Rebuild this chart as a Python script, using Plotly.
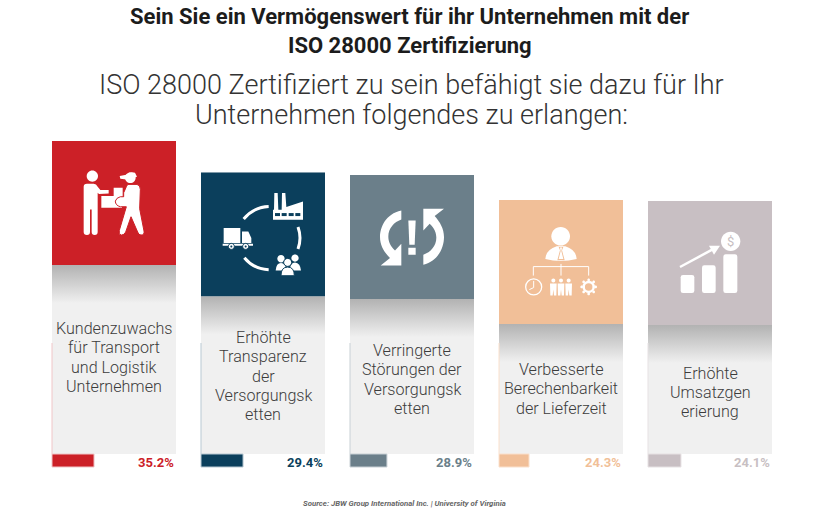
import re
import plotly.graph_objects as go

# values
labels = [
    ["Kundenzuwachs", "für Transport", "und Logistik", "Unternehmen"],
    ["Erhöhte", "Transparenz", "der", "Versorgungsk", "etten"],
    ["Verringerte", "Störungen der", "Versorgungsk", "etten"],
    ["Verbesserte", "Berechenbarkeit", "der Lieferzeit"],
    ["Erhöhte", "Umsatzgen", "erierung"],
]
values = [35.2, 29.4, 28.9, 24.3, 24.1]
mini_bar_share = [33.9, 33.9, 29.8, 24.2, 26.6]
colors = ["#cc2027", "#0b3f5c", "#6b7f8a", "#f1bf98", "#c8bfc3"]
edge_colors = ["#f0c6c8", "#b9c9d3", "#c8d0d5", "#fae0cc", "#e6e1e3"]
title_lines = ["Sein Sie ein Vermögenswert für ihr Unternehmen mit der", "ISO 28000 Zertifizierung"]
subtitle_lines = ["ISO 28000 Zertifiziert zu sein befähigt sie dazu für Ihr", "Unternehmen folgendes zu erlangen:"]
source = "Source: JBW Group International Inc. | University of Virginia"

W, H = 825, 514
SLOT = 149.0      # px per column
TILE = 124.0      # px
PX = 5.4          # px per percent point
BASE = -22.75     # value at the bottom of the tiles
BOTTOM_PX = 454
SQ = TILE / PX
TILE_X = TILE / SLOT
GRAD = 38 / PX
MINI = 13 / PX
LINE_PX = 19.3    # label line height
label_shift = [-2, 1, 3, 0, 3]  # px, centres of the label blocks

n = len(values)
xs = list(range(n))

fig = go.Figure()

# grey tile, coloured square on top
fig.add_trace(go.Bar(x=xs, y=[v - BASE for v in values], base=BASE, width=TILE_X,
                     marker=dict(color="#f0f0f0", line_width=0)))
fig.add_trace(go.Bar(x=xs, y=[SQ] * n, base=[v - SQ for v in values], width=TILE_X,
                     marker=dict(color=colors, line_width=0)))
# small bars under the tiles
widths = [s / 100 * TILE_X for s in mini_bar_share]
fig.add_trace(go.Bar(x=[i - TILE_X / 2 + w / 2 for i, w in zip(xs, widths)], y=[MINI] * n,
                     base=BASE - MINI, width=widths,
                     marker=dict(color=colors, line=dict(color=edge_colors, width=1))))

for i, v in enumerate(values):
    # shadow under the square
    x0, x1 = i - TILE_X / 2, i + TILE_X / 2
    y1 = v - SQ
    y0 = y1 - GRAD
    fig.add_trace(go.Scatter(x=[x0, x1, x1, x0, x0], y=[y0, y0, y1, y1, y0], mode="none", fill="toself",
                             fillgradient=dict(type="vertical",
                                               colorscale=[[0, "#f0f0f0"], [1, "#b2b2b2"]])))
    # thin line on the left edge of the tile, same height on all of them
    fig.add_trace(go.Scatter(x=[x0, x0], y=[BASE, BASE + 111 / PX], mode="lines",
                             line=dict(color=edge_colors[i], width=1)))


def icon_path(path, i, ox, oy):
    # icon paths are drawn on a 3x grid, (ox, oy) is the tile corner on it
    x0 = i - TILE_X / 2
    top = values[i]
    tokens = re.findall(r"[A-Za-z]|-?[\d.]+", path)
    out, is_x = [], True
    for t in tokens:
        if t.isalpha():
            out.append(t)
            is_x = True
        elif is_x:
            out.append(f"{x0 + (float(t) - ox) / 3 / SLOT:.5f}")
            is_x = False
        else:
            out.append(f"{top - (float(t) - oy) / 3 / PX:.4f}")
            is_x = True
    return " ".join(out)


def circle(cx, cy, r):
    k = 0.5523 * r
    return (f"M {cx - r} {cy} C {cx - r} {cy - k} {cx - k} {cy - r} {cx} {cy - r} "
            f"C {cx + k} {cy - r} {cx + r} {cy - k} {cx + r} {cy} "
            f"C {cx + r} {cy + k} {cx + k} {cy + r} {cx} {cy + r} "
            f"C {cx - k} {cy + r} {cx - r} {cy + k} {cx - r} {cy} Z")


def rect(x0, y0, x1, y1):
    return f"M {x0} {y0} L {x1} {y0} L {x1} {y1} L {x0} {y1} Z"


def solid(i, ox, oy, path, color="white", edge=None, lw=0):
    fig.add_shape(type="path", path=icon_path(path, i, ox, oy), xref="x", yref="y",
                  fillcolor=color, line=dict(color=edge or color, width=lw))


def stroke(i, ox, oy, path, width, color="white"):
    fig.add_shape(type="path", path=icon_path(path, i, ox, oy), xref="x", yref="y",
                  fillcolor="rgba(0,0,0,0)", line=dict(color=color, width=width))


# icon 0: handing over a parcel
o = (0, 35, 35)
solid(*o, circle(156, 140, 17))
solid(*o, "M 140 163 L 160 163 Q 168 163 172 172 L 180 182 L 205 182 L 205 192 L 176 194 L 172 190 "
          "L 172 308 Q 172 317 163 317 Q 154 317 154 308 L 154 240 L 149 240 L 149 308 Q 149 317 140 317 "
          "Q 130 317 130 308 L 130 172 Q 130 163 140 163 Z")
solid(*o, rect(183, 200, 245, 235))
solid(*o, rect(220, 175, 247, 205))
solid(*o, circle(270, 145, 16))
solid(*o, "M 238 140 L 258 136 Q 268 126 284 130 L 290 142 L 258 150 L 240 148 Z")
solid(*o, "M 262 165 L 290 165 Q 300 167 300 180 L 298 238 L 311 305 Q 313 317 302 317 Q 295 317 292 308 "
          "L 272 262 L 256 308 Q 252 317 243 317 Q 234 315 237 303 L 258 232 L 240 232 Q 225 228 225 215 "
          "Q 228 205 240 202 L 250 202 L 250 190 L 258 172 Z", edge=colors[0], lw=1)

# icon 1: factory, people, truck in a circle
o = (1, 482, 128)
solid(*o, "M 702 190 L 712 190 L 714 240 L 724 240 L 725 190 L 735 190 L 738 232 L 788 215 L 788 270 "
          "L 698 270 L 698 240 L 701 240 Z")
for wx in (704, 724, 745, 765):
    solid(*o, rect(wx, 250, wx + 15, 259), color=colors[1])
for arc in ("M 610 268 Q 640 232 685 230", "M 773 292 Q 785 325 773 358", "M 612 384 Q 640 418 685 420"):
    stroke(*o, arc, 3)
solid(*o, rect(550, 295, 600, 340))
solid(*o, "M 605 305 L 624 305 L 633 325 L 633 340 L 605 340 Z")
solid(*o, rect(547, 342, 638, 348))
for wx in (573, 616):
    solid(*o, circle(wx, 350, 9), edge=colors[1], lw=1)
    solid(*o, circle(wx, 350, 3), color=colors[1])
solid(*o, circle(722, 387, 11))
solid(*o, circle(764, 385, 11))
solid(*o, "M 706 422 Q 708 400 722 400 Q 736 400 738 422 Z")
solid(*o, "M 748 422 Q 750 398 764 398 Q 780 400 782 422 Z")
solid(*o, circle(742, 398, 12), edge=colors[1], lw=1)
solid(*o, "M 722 438 Q 722 412 742 412 Q 762 412 762 438 Z", edge=colors[1], lw=1)

# icon 2: arrows round an exclamation mark
o = (2, 28, 19)
solid(*o, "M 182 125 C 135 135 118 175 118 205 C 118 230 130 250 148 268 L 120 290 L 182 290 L 182 225 "
          "L 163 245 C 148 230 143 218 143 203 C 143 178 160 160 182 152 Z")
solid(*o, "M 248 288 C 295 275 310 235 310 205 C 310 180 298 160 282 142 L 310 120 L 248 120 L 248 185 "
          "L 267 165 C 282 180 287 192 287 207 C 287 232 270 250 248 258 Z")
solid(*o, "M 203 155 L 225 155 L 222 228 L 206 228 Z")
solid(*o, rect(203, 237, 225, 258))

# icon 3: manager and org chart
o = (3, 475, 91)
solid(*o, circle(660, 200, 28))
solid(*o, "M 614 268 Q 616 240 648 230 L 674 230 Q 706 240 708 268 Q 660 280 614 268 Z")
solid(*o, "M 654 232 L 668 232 L 664 242 L 672 272 L 650 272 L 658 242 Z", color=colors[3])
solid(*o, "M 658 234 L 664 234 L 662 244 L 668 268 L 654 268 L 660 244 Z")
stroke(*o, "M 578 318 L 578 291 L 744 291 L 744 318", 1)
stroke(*o, "M 661 283 L 661 318", 1)
stroke(*o, circle(579, 352, 24), 1.3)
stroke(*o, "M 579 334 L 579 354 L 566 360", 1)
for px_ in (638, 661, 684):
    solid(*o, circle(px_, 333, 6))
    solid(*o, f"M {px_ - 10} 342 L {px_ + 10} 342 L {px_ + 9} 378 L {px_ + 2} 378 L {px_} 360 L {px_ - 2} 378 "
              f"L {px_ - 9} 378 Z")
stroke(*o, circle(744, 352, 15), 2.5)
for dx, dy in ((0, -21), (0, 21), (21, 0), (-21, 0), (15, 15), (-15, 15), (15, -15), (-15, -15)):
    solid(*o, circle(744 + dx, 352 + dy, 4))

# icon 4: rising bars and coin
o = (4, 82, 34)
for x0_, y0_, x1_ in ((180, 256, 221), (244, 227, 285), (308, 194, 350)):
    solid(*o, f"M {x0_ + 7} {y0_} L {x1_ - 7} {y0_} Q {x1_} {y0_} {x1_} {y0_ + 7} L {x1_} 303 Q {x1_} 310 {x1_ - 7} 310 "
              f"L {x0_ + 7} 310 Q {x0_} 310 {x0_} 303 L {x0_} {y0_ + 7} Q {x0_} {y0_} {x0_ + 7} {y0_} Z")
stroke(*o, "M 178 232 L 280 177", 2.5)
solid(*o, "M 298 168 L 265 168 L 280 195 Z")
solid(*o, circle(330, 155, 29))


def py(p):
    return 1 - p / H


def text(s, x, y, size, color, weight=400, xref="paper", yref="paper", xanchor="center", family="Roboto", style="normal"):
    fig.add_annotation(text=s, x=x, y=y, xref=xref, yref=yref, xanchor=xanchor, yanchor="middle",
                       showarrow=False, align="center",
                       font=dict(family=family, size=size, color=color, weight=weight, style=style))


for line, p in zip(title_lines, (17, 45)):
    text(line, 409.5 / W, py(p), 22, "#1c1c1c", weight=700)
for line, p in zip(subtitle_lines, (85, 115)):
    text(line, 411.5 / W, py(p), 27, "#333333", weight=300)

for i, (lines, v) in enumerate(zip(labels, values)):
    mid = (v - SQ + BASE) / 2 - label_shift[i] / PX
    for k, line in enumerate(lines):
        y = mid - (k - (len(lines) - 1) / 2) * LINE_PX / PX
        text(line, i, y, 16.1, "#3c3c3c", weight=300, xref="x", yref="y")
    text(f"{v}%", i + TILE_X / 2, BASE - 8 / PX, 13, colors[i], weight=700, xref="x", yref="y", xanchor="right")

text("$", 4 - TILE_X / 2 + (330 - 82) / 3 / SLOT, 24.1 - (155 - 34) / 3 / PX, 13, colors[4], xref="x", yref="y")
text(source, 404.5 / W, py(503), 7.8, "#666666", weight=700, style="italic")

fig.update_layout(
    width=W, height=H, margin=dict(l=0, r=0, t=0, b=0),
    paper_bgcolor="white", plot_bgcolor="white",
    barmode="overlay", showlegend=False, hovermode=False,
    xaxis=dict(domain=[39.5 / W, 784.5 / W], range=[-0.5, 4.5], visible=False),
    yaxis=dict(domain=[0, 1], range=[BASE - (H - BOTTOM_PX) / PX, BASE + BOTTOM_PX / PX], visible=False),
)

fig.write_html("out.html", config=dict(displayModeBar=False),
               post_script="document.body.style.margin='0';")
